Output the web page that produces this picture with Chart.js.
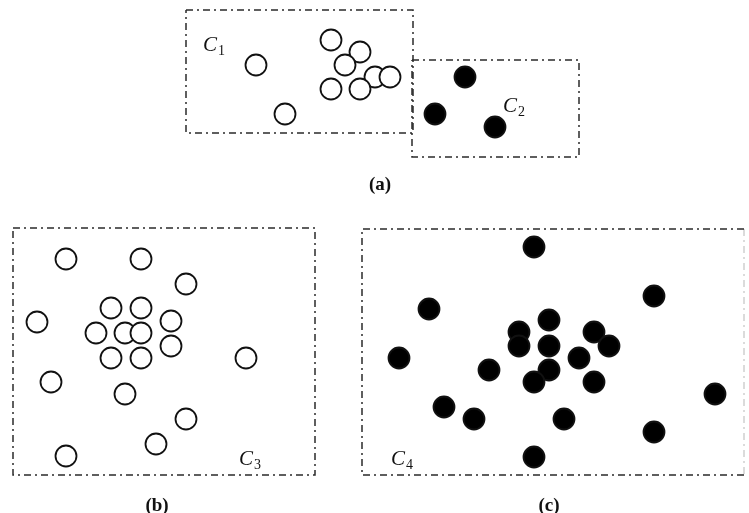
<!DOCTYPE html>
<html>
<head>
<meta charset="utf-8">
<script src="https://cdn.jsdelivr.net/npm/chart.js@4.4.1/dist/chart.umd.min.js"></script>
<style>
html,body{margin:0;padding:0;background:#fff;}
#wrap{width:749px;height:513px;}
</style>
</head>
<body>
<div id="wrap"><canvas id="c" width="749" height="513"></canvas></div>
<script>
// Diagram coordinates (x to the right, y downward)
const c1Open = [[256,65],[331,40],[360,52],[345,65],[375,77],[390,77],[331,89],[360,89],[285,114]];
const c2Filled = [[465,77],[435,114],[495,127]];
const c3Open = [[66,259],[141,259],[186,284],[111,308],[141,308],[37,322],[171,321],[96,333],[125,333],[141,333],[171,346],[111,358],[141,358],[246,358],[51,382],[125,394],[186,419],[156,444],[66,456]];
const c4Filled = [[534,247],[654,296],[429,309],[549,320],[519,332],[594,332],[519,346],[549,346],[609,346],[399,358],[579,358],[489,370],[549,370],[534,382],[594,382],[715,394],[444,407],[474,419],[564,419],[654,432],[534,457]];
// Cluster boxes: [left, top, right, bottom]
const boxC1 = [186,10,413,133];
const boxC2 = [412,60,579,157];
const boxC3 = [13,228,315,475];
const boxC4 = [362,229,744,475];
// Labels
const clusterLabels = [["C","1",203,51],["C","2",503,112],["C","3",239,465],["C","4",391,465]];
const panelLabels = [["(a)",380,190],["(b)",157,511],["(c)",549,511]];

const toPts = a => a.map(p => ({x:p[0], y:p[1]}));
const rect = b => [{x:b[0],y:b[1]},{x:b[2],y:b[1]},{x:b[2],y:b[3]},{x:b[0],y:b[3]},{x:b[0],y:b[1]}];
// three sides (top, left, bottom) without the right edge
const openRect = b => [{x:b[2],y:b[1]},{x:b[0],y:b[1]},{x:b[0],y:b[3]},{x:b[2],y:b[3]}];
const rightEdge = b => [{x:b[2],y:b[1]},{x:b[2],y:b[3]}];

function lineDs(pts, color){
  return {type:'line', data:pts, showLine:true, borderColor:color||'#2a2a2a', borderWidth:1.5,
    borderDash:[7,4,2,4], pointRadius:0, fill:false, tension:0, clip:false, order:2};
}
function ptsDs(a, filled){
  return {type:'scatter', data:toPts(a), pointStyle:'circle', pointRadius:10.5, pointHoverRadius:10.5,
    borderWidth:1.8, borderColor:'#111', backgroundColor: filled ? '#000' : '#fff', clip:false, order:1};
}

const textPlugin = {
  id:'texts',
  afterDatasetsDraw(chart){
    const ctx = chart.ctx, xs = chart.scales.x, ys = chart.scales.y;
    ctx.save();
    ctx.fillStyle = '#111';
    ctx.textBaseline = 'alphabetic';
    clusterLabels.forEach(([m, sub, x, y]) => {
      const px = xs.getPixelForValue(x), py = ys.getPixelForValue(y);
      ctx.font = 'italic 21px "Liberation Serif", "DejaVu Serif", serif';
      ctx.textAlign = 'left';
      ctx.fillText(m, px, py);
      const w = ctx.measureText(m).width;
      ctx.font = '14px "Liberation Serif", "DejaVu Serif", serif';
      ctx.fillText(sub, px + w + 1, py + 4);
    });
    panelLabels.forEach(([t, x, y]) => {
      ctx.font = 'bold 19px "Liberation Serif", "DejaVu Serif", serif';
      ctx.textAlign = 'center';
      ctx.fillText(t, xs.getPixelForValue(x), ys.getPixelForValue(y));
    });
    ctx.restore();
  }
};

new Chart(document.getElementById('c'), {
  type:'scatter',
  data:{datasets:[
    lineDs(rect(boxC1)), lineDs(rect(boxC2)), lineDs(rect(boxC3)),
    lineDs(openRect(boxC4)), lineDs(rightEdge(boxC4), '#d0d0d0'),
    ptsDs(c1Open,false), ptsDs(c2Filled,true), ptsDs(c3Open,false), ptsDs(c4Filled,true)
  ]},
  options:{
    responsive:false, animation:false,
    layout:{padding:0, autoPadding:false},
    plugins:{legend:{display:false}, tooltip:{enabled:false}},
    scales:{
      x:{type:'linear', min:0, max:749, display:false},
      y:{type:'linear', min:0, max:513, reverse:true, display:false}
    }
  },
  plugins:[textPlugin]
});
</script>
</body>
</html>
